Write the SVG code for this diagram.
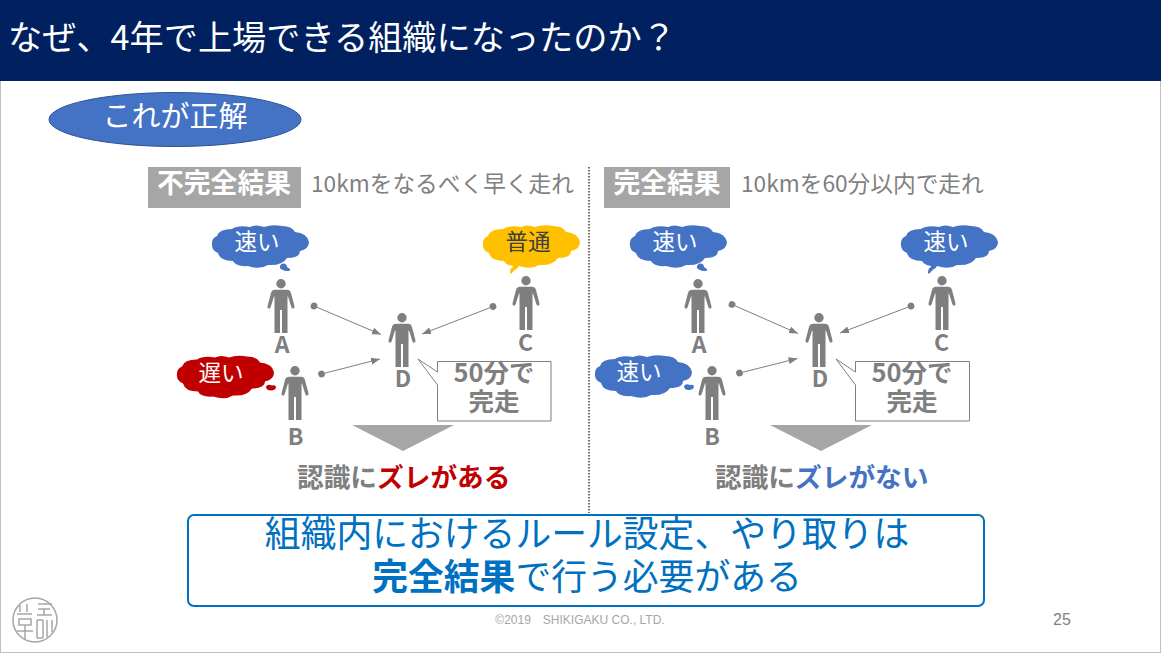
<svg xmlns="http://www.w3.org/2000/svg" width="1161" height="653" viewBox="0 0 1161 653">
<style>
text{font-family:"Noto Sans CJK JP","Noto Sans",sans-serif}
.g{fill:#7f7f7f}
.lbl{fill:#7f7f7f;font-size:23px;font-weight:700;text-anchor:middle}
.cl{font-size:22.500px;text-anchor:middle;fill:#fff}
.co{fill:#fff;stroke:#7f7f7f;stroke-width:1}
.cot{font-size:25.500px;font-weight:700;fill:#7f7f7f;text-anchor:middle}
.tri{fill:#a6a6a6}
.hd{font-size:26.800px;font-weight:700;fill:#fff;text-anchor:middle}
.sub{font-size:22.700px;fill:#7f7f7f}
.res{font-size:26.700px;font-weight:700;fill:#7f7f7f}
.big{font-size:35.800px;fill:#0070c0;text-anchor:middle}
.conn line{stroke:#7f7f7f;stroke-width:1;marker-start:url(#dot);marker-end:url(#arr)}
.seal{fill:none;stroke:#a6a6a6;stroke-width:1.500}
</style>
<defs>
<marker id="dot" markerUnits="userSpaceOnUse" markerWidth="8" markerHeight="8" refX="4" refY="4" orient="auto"><circle cx="4" cy="4" r="3.400" fill="#7f7f7f"/></marker>
<marker id="arr" markerUnits="userSpaceOnUse" markerWidth="9" markerHeight="8" refX="9" refY="4" orient="auto"><path d="M0 0.500L9 4L0 7.500Z" fill="#7f7f7f"/></marker>
<g id="person"><circle cx="0" cy="4.700" r="4.700"/><path d="M-6 10.800H6Q9 10.800 10 14L13.400 27Q14 29 12.400 29.600Q10.900 30 10.300 28L7 17.500H6.500V54H1V31H-1V54H-6.500V17.500H-7L-10.300 28Q-10.900 30-12.400 29.600Q-14 29-13.400 27L-10 14Q-9 10.800-6 10.800Z"/></g>
<path id="cloud" d="M5 11Q7 4 20 4Q26 0 38 2Q44-1 52 2Q60-1 70 1Q80 1 83 7Q95 8 97 17Q97 24 88 26Q88 33 75 33Q70 41 56 40Q48 45 36 41Q24 42 21 36Q8 36 6 28Q-1 25 0 18Q0 13 5 11Z"/>
<path id="tail-a" d="M0 2Q1-1 4-0.500Q7 0 7 3L10 5Q10.500 7.500 8 7Q4 7 2 5.500Q-0.500 5 0 2Z"/>
<path id="tail-c" d="M0 8Q0 3 3 2Q3-1 8 0Q10 2 6 4Q4 5 2 8Q0 9 0 8Z"/>
<path id="tail-b" d="M0 2Q2-1 6 1Q10 0 10 3Q9 6 5 6Q0 6 0 2Z"/>
</defs>
<rect width="1161" height="653" fill="#fff"/>
<rect x="0.500" y="0.500" width="1160" height="652" fill="none" stroke="#bfbfbf" stroke-width="1"/>
<g id="title"><rect width="1161" height="81" fill="#002060"/><text x="8" y="50" font-size="34.200" fill="#fff">なぜ、4年で上場できる組織になったのか？</text></g>
<g id="badge"><ellipse cx="175" cy="119.500" rx="126" ry="27" fill="#4472c4" stroke="#2f528f"/><text x="175" y="127" font-size="29" fill="#fff" text-anchor="middle">これが正解</text></g>
<line id="divider" x1="589" y1="167" x2="589" y2="513" stroke="#404040" stroke-width="1.500" stroke-dasharray="1.500 1.500"/>

<g id="head-left"><rect x="148" y="167" width="153" height="41" fill="#a6a6a6"/><text class="hd" x="224" y="193">不完全結果</text><text class="sub" x="311" y="192">10kmをなるべく早く走れ</text></g>
<g id="head-right"><rect x="604" y="167" width="126" height="41" fill="#a6a6a6"/><text class="hd" x="667" y="193">完全結果</text><text class="sub" x="741" y="192">10kmを60分以内で走れ</text></g>

<g id="connectors" class="conn">
<line x1="314" y1="306" x2="381" y2="334.500"/>
<line x1="493" y1="306.500" x2="422" y2="334"/>
<line x1="321.500" y1="374" x2="380" y2="359"/>
<line x1="732" y1="304.500" x2="798" y2="333.500"/>
<line x1="911" y1="306" x2="840" y2="333"/>
<line x1="739.500" y1="373" x2="797.500" y2="358.500"/>
</g>

<g id="cloud-l-a"><use href="#cloud" x="212" y="225" fill="#4472c4"/><use href="#tail-a" x="280" y="264" fill="#4472c4"/><text class="cl" x="257" y="250">速い</text></g>
<g id="cloud-l-c"><use href="#cloud" x="483" y="225" fill="#ffc000"/><use href="#tail-c" x="510" y="265" fill="#ffc000"/><text class="cl" x="528" y="250" style="fill:#404040">普通</text></g>
<g id="cloud-l-b"><use href="#cloud" x="177" y="355.500" fill="#c00000"/><use href="#tail-b" x="266" y="384.500" fill="#c00000"/><text class="cl" x="221" y="381">遅い</text></g>
<g id="cloud-r-a"><use href="#cloud" x="630" y="225" fill="#4472c4"/><use href="#tail-a" x="697" y="264" fill="#4472c4"/><text class="cl" x="675" y="250">速い</text></g>
<g id="cloud-r-c"><use href="#cloud" x="901" y="225" fill="#4472c4"/><use href="#tail-c" x="928" y="265" fill="#4472c4"/><text class="cl" x="946" y="250">速い</text></g>
<g id="cloud-r-b"><use href="#cloud" x="595" y="355" fill="#4472c4"/><use href="#tail-b" x="684" y="384" fill="#4472c4"/><text class="cl" x="639" y="380">速い</text></g>

<g id="l-a" class="g"><use href="#person" x="281" y="279"/><text class="lbl" x="282" y="352.500">A</text></g>
<g id="l-b" class="g"><use href="#person" x="295" y="366"/><text class="lbl" x="295.500" y="445">B</text></g>
<g id="l-c" class="g"><use href="#person" x="526" y="276"/><text class="lbl" x="525.500" y="350.500">C</text></g>
<g id="l-d" class="g"><use href="#person" x="402" y="313"/><text class="lbl" x="403" y="386.500">D</text></g>
<g id="r-a" class="g"><use href="#person" x="698" y="279"/><text class="lbl" x="699" y="352.500">A</text></g>
<g id="r-b" class="g"><use href="#person" x="712" y="366"/><text class="lbl" x="712" y="445">B</text></g>
<g id="r-c" class="g"><use href="#person" x="942" y="276"/><text class="lbl" x="941.500" y="350.500">C</text></g>
<g id="r-d" class="g"><use href="#person" x="819" y="313"/><text class="lbl" x="820" y="386.500">D</text></g>

<g id="callout-l"><path class="co" d="M437.500 361.500H551V421H437.500V385L418 359L437.500 372Z"/><text class="cot" x="494" y="382">50分で</text><text class="cot" x="494" y="411">完走</text></g>
<g id="callout-r"><path class="co" d="M855.500 361.500H969.500V421H855.500V385L836 359L855.500 372Z"/><text class="cot" x="912" y="382">50分で</text><text class="cot" x="912" y="411">完走</text></g>

<path class="tri" d="M352 425H454L403 451Z"/>
<path class="tri" d="M770 425H872L821 451Z"/>
<g id="result-l"><text class="res" x="297" y="487">認識に<tspan fill="#c00000">ズレがある</tspan></text></g>
<g id="result-r"><text class="res" x="715" y="487">認識に<tspan fill="#4472c4">ズレがない</tspan></text></g>

<g id="conclusion"><rect x="188" y="515" width="796" height="91" rx="6" fill="#fff" stroke="#0070c0" stroke-width="2"/><text class="big" x="587" y="547">組織内におけるルール設定、やり取りは</text><text class="big" x="587" y="590"><tspan font-weight="700">完全結果</tspan>で行う必要がある</text></g>

<g id="seal"><circle class="seal" cx="35" cy="620" r="22" stroke-width="2.500"/><path class="seal" d="M20 605V612M27 604V612M17 614H32M19 619H31V625H19ZM25 625V640M17 631H33M38 604H52M38 609H50M44 609V615M37 615H52M37 620V638M43 620V638M37 620H43M37 638H43M47 620V637M52 620V632"/></g>
<text x="580" y="624" font-size="12" fill="#a6a6a6" text-anchor="middle" style="font-family:'Liberation Sans',sans-serif">©2019　SHIKIGAKU CO., LTD.</text>
<text x="1053" y="624.500" font-size="16" fill="#7f7f7f" style="font-family:'Liberation Sans',sans-serif">25</text>
</svg>
